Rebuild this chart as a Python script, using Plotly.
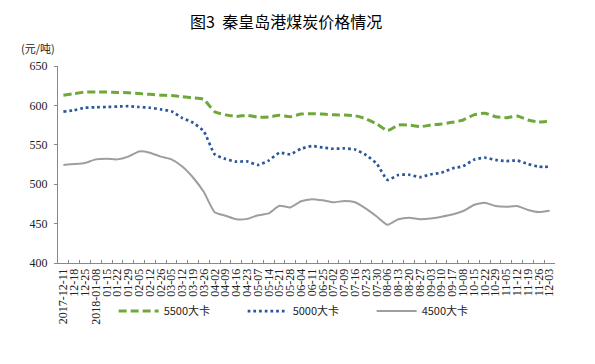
import plotly.graph_objects as go

dates = ["2017-12-11", "12-18", "12-25", "2018-01-08", "01-15", "01-22", "01-29", "02-05",
         "02-12", "02-26", "03-05", "03-12", "03-19", "03-26", "04-02", "04-09", "04-16",
         "04-23", "05-07", "05-14", "05-21", "05-28", "06-04", "06-11", "06-25", "07-02",
         "07-09", "07-16", "07-23", "07-30", "08-06", "08-13", "08-20", "08-27", "09-03",
         "09-10", "09-17", "10-08", "10-15", "10-22", "10-29", "11-05", "11-12", "11-19",
         "11-26", "12-03"]

p5500 = [613, 615, 617, 617, 617, 616.5, 616, 615, 614, 613, 612.5, 611, 609.5, 607.5,
         592, 588, 586, 587.5, 585, 585.3, 587.4, 585.7, 589, 589.5, 589, 588, 587.8,
         586.8, 583, 576.5, 568, 575, 575, 573, 575, 576.4, 578.5, 581.5, 588, 590,
         585.7, 584.4, 586.5, 581.5, 579, 579.8]

p5000 = [592, 594, 597, 597.6, 598, 598.5, 599, 598, 597, 595, 592.5, 584, 578, 567,
         538, 532, 528.6, 529, 524.4, 530, 540, 538, 545, 548.5, 546.5, 545, 545.5,
         544, 537, 526, 505.5, 511.7, 512, 509, 512.5, 514.6, 520, 523, 531, 533.6,
         530.8, 529.4, 530, 525.6, 522.2, 522.2]

p4500 = [524.4, 525.5, 527, 531.5, 532.2, 531.5, 535, 541.5, 540, 535, 531.5, 522.5,
         508.5, 490, 464.5, 460, 455.5, 456, 460.5, 463, 472.7, 470.5, 478.3, 481,
         479.5, 477, 478.7, 477, 469, 459, 448.5, 455.5, 457.5, 455.5, 456.5, 458.8,
         461.5, 466, 473.6, 476.6, 472.3, 471.4, 472.3, 467.3, 464.7, 466.4]

series_names = ["5500大卡", "5000大卡", "4500大卡"]

fig = go.Figure()
fig.add_trace(go.Scatter(x=dates, y=p5500, name=series_names[0], mode="lines",
                         line=dict(color="#6FA83A", width=3, dash="8px,4px",
                                   shape="spline", smoothing=0.5)))
fig.add_trace(go.Scatter(x=dates, y=p5000, name=series_names[1], mode="lines",
                         line=dict(color="#2B579A", width=2.7, dash="2.7px,3px",
                                   shape="spline", smoothing=0.5)))
fig.add_trace(go.Scatter(x=dates, y=p4500, name=series_names[2], mode="lines",
                         line=dict(color="#9E9E9E", width=2,
                                   shape="spline", smoothing=0.5)))

fig.update_layout(
    width=595, height=364,
    margin=dict(l=58, r=40, t=66, b=101, autoexpand=False),
    paper_bgcolor="white", plot_bgcolor="white",
    title=dict(text="图3  秦皇岛港煤炭价格情况", x=0.459, xref="paper", xanchor="center",
               y=1 - 22 / 364, yanchor="middle",
               font=dict(family="Noto Sans CJK SC", size=16, color="#000")),
    font=dict(family="Liberation Serif", color="#222"),
    showlegend=True,
    legend=dict(orientation="h", x=0.112, xanchor="left", y=-0.244, yanchor="middle",
                font=dict(family="Noto Sans CJK SC", size=11, color="#222"),
                entrywidth=74, entrywidthmode="pixels", itemwidth=40,
                bgcolor="rgba(0,0,0,0)"),
    xaxis=dict(type="category", categoryorder="array", categoryarray=dates,
               tickmode="linear", dtick=1, automargin=False,
               tickangle=-90, tickson="boundaries", ticks="inside", ticklen=3,
               tickcolor="#888", showline=True, linecolor="#888", linewidth=1,
               showgrid=False, tickfont=dict(family="Liberation Serif", size=12, color="#222"),
               range=[-0.5, len(dates) - 0.5]),
    yaxis=dict(range=[400, 650], dtick=50, ticks="outside", ticklen=3, tickcolor="#888",
               automargin=False, ticklabelstandoff=4,
               showline=True, linecolor="#888", linewidth=1, showgrid=False, zeroline=False,
               tickfont=dict(family="Liberation Serif", size=12, color="#222")),
    annotations=[dict(text="(元/吨)", xref="paper", yref="paper", x=-0.041, y=1 + 18 / 197,
                      xanchor="center", yanchor="middle", showarrow=False,
                      font=dict(family="Noto Sans CJK SC", size=11, color="#222"))],
)

fig.write_html("out.html", config={"displayModeBar": False},
               post_script="document.body.style.margin='0';")
